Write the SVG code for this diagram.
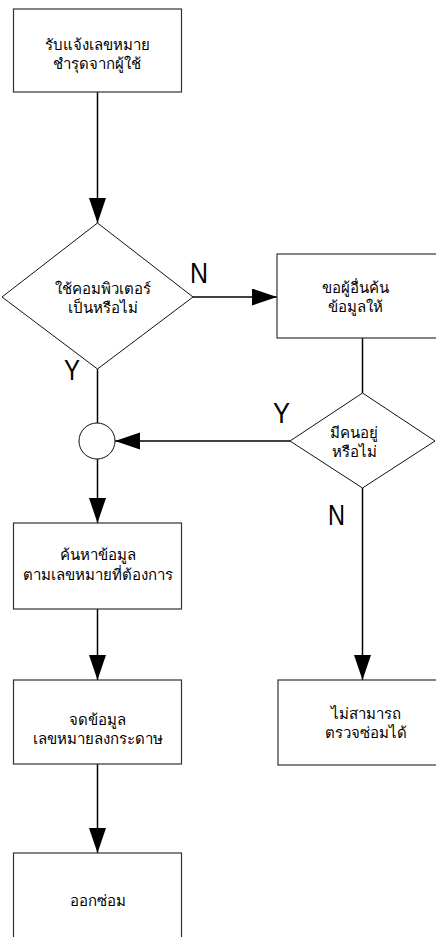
<svg xmlns="http://www.w3.org/2000/svg" width="436" height="937" viewBox="0 0 436 937">
<defs>
<marker id="ah" markerUnits="userSpaceOnUse" markerWidth="26" markerHeight="18" refX="25" refY="8.5" orient="auto">
<path d="M0,0 L25,8.5 L0,17 Z" fill="#000"/>
</marker>
<style>
.box{fill:#fff;stroke:#333;stroke-width:1.2}
.dec{fill:#fff;stroke:#111;stroke-width:1}
.ln{fill:none;stroke:#000;stroke-width:1.5}
.arr{fill:none;stroke:#000;stroke-width:1.5;marker-end:url(#ah)}
.t{font-family:Tahoma,"Noto Sans","DejaVu Sans",sans-serif;font-size:15px;fill:#000;text-anchor:middle}
.lab{font-family:"Liberation Sans",Arial,sans-serif;font-size:29px;fill:#000}
</style>
</defs>
<rect width="436" height="937" fill="#fff"/>
<g id="connectors">
<line class="arr" x1="97.5" y1="92" x2="97.5" y2="223"/>
<line class="arr" x1="193" y1="297" x2="277" y2="297"/>
<line class="ln" x1="362.5" y1="338" x2="362.5" y2="393"/>
<line class="arr" x1="290" y1="441" x2="115" y2="441"/>
<line class="ln" x1="97.5" y1="369" x2="97.5" y2="423"/>
<line class="arr" x1="97.5" y1="459" x2="97.5" y2="523"/>
<line class="arr" x1="97.5" y1="609" x2="97.5" y2="680"/>
<line class="arr" x1="97.5" y1="764" x2="97.5" y2="853"/>
<line class="arr" x1="362.5" y1="488" x2="362.5" y2="680"/>
<text class="lab" x="190" y="283" textLength="18" lengthAdjust="spacingAndGlyphs">N</text>
<text class="lab" x="64" y="380" textLength="16" lengthAdjust="spacingAndGlyphs">Y</text>
<text class="lab" x="273" y="423" textLength="17" lengthAdjust="spacingAndGlyphs">Y</text>
<text class="lab" x="328" y="525" textLength="17" lengthAdjust="spacingAndGlyphs">N</text>
</g>
<g id="n1">
<rect class="box" x="13.5" y="9" width="168" height="83"/>
<text class="t" x="97" y="50">รับแจ้งเลขหมาย</text>
<text class="t" x="97" y="69">ชำรุดจากผู้ใช้</text>
</g>
<g id="d1">
<polygon class="dec" points="97.5,223 193,297 97.5,369 2,297"/>
<text class="t" x="103" y="294">ใช้คอมพิวเตอร์</text>
<text class="t" x="103" y="313">เป็นหรือไม่</text>
</g>
<g id="n2">
<rect class="box" x="277" y="254" width="168" height="84"/>
<text class="t" x="355" y="293">ขอผู้อื่นค้น</text>
<text class="t" x="355" y="312">ข้อมูลให้</text>
</g>
<g id="d2">
<polygon class="dec" points="362.5,393 435,441 362.5,488 290,441"/>
<text class="t" x="354" y="438">มีคนอยู่</text>
<text class="t" x="354" y="457">หรือไม่</text>
</g>
<g id="join">
<circle class="dec" cx="97" cy="441" r="18"/>
</g>
<g id="n3">
<rect class="box" x="13.5" y="523" width="168" height="86"/>
<text class="t" x="97.5" y="560">ค้นหาข้อมูล</text>
<text class="t" x="97.5" y="580">ตามเลขหมายที่ต้องการ</text>
</g>
<g id="n4">
<rect class="box" x="13.5" y="680" width="168" height="84"/>
<text class="t" x="97.5" y="725">จดข้อมูล</text>
<text class="t" x="97.5" y="744">เลขหมายลงกระดาษ</text>
</g>
<g id="n5">
<rect class="box" x="278" y="680" width="168" height="85"/>
<text class="t" x="366" y="719">ไม่สามารถ</text>
<text class="t" x="366" y="738">ตรวจซ่อมได้</text>
</g>
<g id="n6">
<rect class="box" x="13.5" y="853" width="168" height="95"/>
<text class="t" x="97.5" y="906">ออกซ่อม</text>
</g>
</svg>
